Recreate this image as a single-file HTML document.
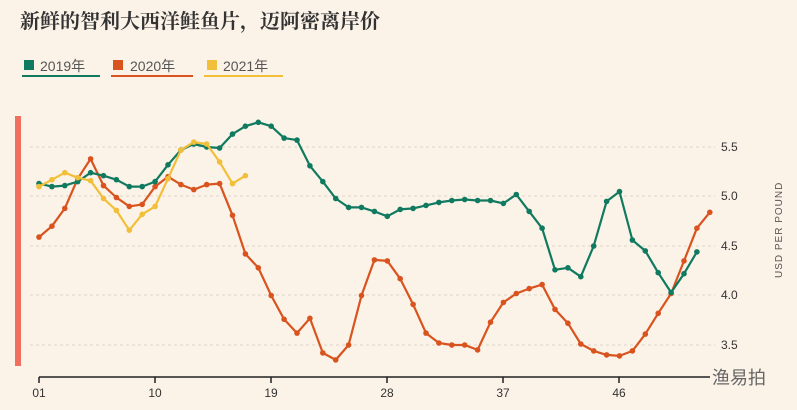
<!DOCTYPE html>
<html><head><meta charset="utf-8"><style>
body{margin:0;background:#fcf3e8;}
svg{display:block;font-family:"Liberation Sans","Noto Sans CJK SC",sans-serif;}
</style></head><body>
<svg id="s" width="797" height="410" viewBox="0 0 797 410">
<rect width="797" height="410" fill="#fcf3e8"/>
<text x="20" y="28" font-size="20" font-family="'Noto Serif CJK SC',serif" font-weight="bold" fill="#333">新鲜的智利大西洋鲑鱼片，迈阿密离岸价</text>
<rect x="24" y="60" width="10" height="10" fill="#0f7a5f"/><text x="40" y="71" font-size="14" fill="#555">2019年</text>
<rect x="22" y="75" width="78" height="2" fill="#0f7a5f"/>
<rect x="113" y="60" width="10" height="10" fill="#d9531e"/><text x="130" y="71" font-size="14" fill="#555">2020年</text>
<rect x="111" y="75" width="82" height="2" fill="#d9531e"/>
<rect x="207" y="60" width="10" height="10" fill="#f2bf3a"/><text x="223" y="71" font-size="14" fill="#555">2021年</text>
<rect x="204" y="75" width="79" height="2" fill="#f2bf3a"/>
<rect x="15" y="116" width="6" height="250" fill="#f07060"/>
<g stroke="#ddd5c8" stroke-dasharray="3,3" stroke-width="1">
<line x1="30" x2="715" y1="147" y2="147"/><line x1="30" x2="715" y1="196" y2="196"/><line x1="30" x2="715" y1="246" y2="246"/><line x1="30" x2="715" y1="295" y2="295"/><line x1="30" x2="715" y1="345" y2="345"/></g>
<g font-size="12" fill="#333"><text x="721" y="151">5.5</text><text x="721" y="200">5.0</text><text x="721" y="250">4.5</text><text x="721" y="299">4.0</text><text x="721" y="349">3.5</text></g>
<text transform="translate(782,278) rotate(-90)" font-size="10" fill="#555" letter-spacing="1">USD PER POUND</text>
<line x1="39" x2="710" y1="377" y2="377" stroke="#222" stroke-width="1.5"/>
<g stroke="#222" stroke-width="1.5"><line x1="39" x2="39" y1="377" y2="383"/><line x1="155" x2="155" y1="377" y2="383"/><line x1="271" x2="271" y1="377" y2="383"/><line x1="387" x2="387" y1="377" y2="383"/><line x1="503" x2="503" y1="377" y2="383"/><line x1="619" x2="619" y1="377" y2="383"/></g>
<g font-size="12" fill="#333" text-anchor="middle"><text x="39" y="397">01</text><text x="155" y="397">10</text><text x="271" y="397">19</text><text x="387" y="397">28</text><text x="503" y="397">37</text><text x="619" y="397">46</text></g>
<text x="712" y="384" font-size="18" fill="#666" font-family="'Noto Sans CJK SC',sans-serif">渔易拍</text>
<g id="g"></g>
</svg>
<script>
var G=[5.13,5.10,5.11,5.15,5.24,5.21,5.17,5.10,5.10,5.15,5.32,5.47,5.53,5.50,5.49,5.63,5.71,5.75,5.71,5.59,5.57,5.31,5.15,4.98,4.89,4.89,4.85,4.80,4.87,4.88,4.91,4.94,4.96,4.97,4.96,4.96,4.93,5.02,4.85,4.68,4.26,4.28,4.19,4.50,4.95,5.05,4.56,4.45,4.23,4.03,4.22,4.44];
var O=[4.59,4.70,4.88,5.18,5.38,5.11,4.99,4.90,4.92,5.10,5.20,5.12,5.07,5.12,5.13,4.81,4.42,4.28,4.00,3.76,3.62,3.77,3.42,3.35,3.50,4.00,4.36,4.35,4.17,3.91,3.62,3.52,3.50,3.50,3.45,3.73,3.93,4.02,4.07,4.11,3.86,3.72,3.51,3.44,3.40,3.39,3.44,3.61,3.82,4.02,4.35,4.68,4.84];
var Y=[5.10,5.17,5.24,5.19,5.16,4.98,4.86,4.66,4.82,4.90,5.18,5.47,5.55,5.53,5.35,5.13,5.21];
var g=document.getElementById('g'),h='';
function s(d,c){var p=d.map(function(v,i){return (39+i*12.9).toFixed(1)+','+(147+(5.5-v)*99).toFixed(1)});
h+='<polyline points="'+p.join(' ')+'" fill="none" stroke="'+c+'" stroke-width="2.2" stroke-linejoin="round"/>';
p.forEach(function(q){var a=q.split(',');h+='<circle cx="'+a[0]+'" cy="'+a[1]+'" r="2.8" fill="'+c+'"/>';});}
s(O,'#d9531e');s(G,'#0f7a5f');s(Y,'#f2bf3a');
g.innerHTML=h;
</script>
</body></html>
